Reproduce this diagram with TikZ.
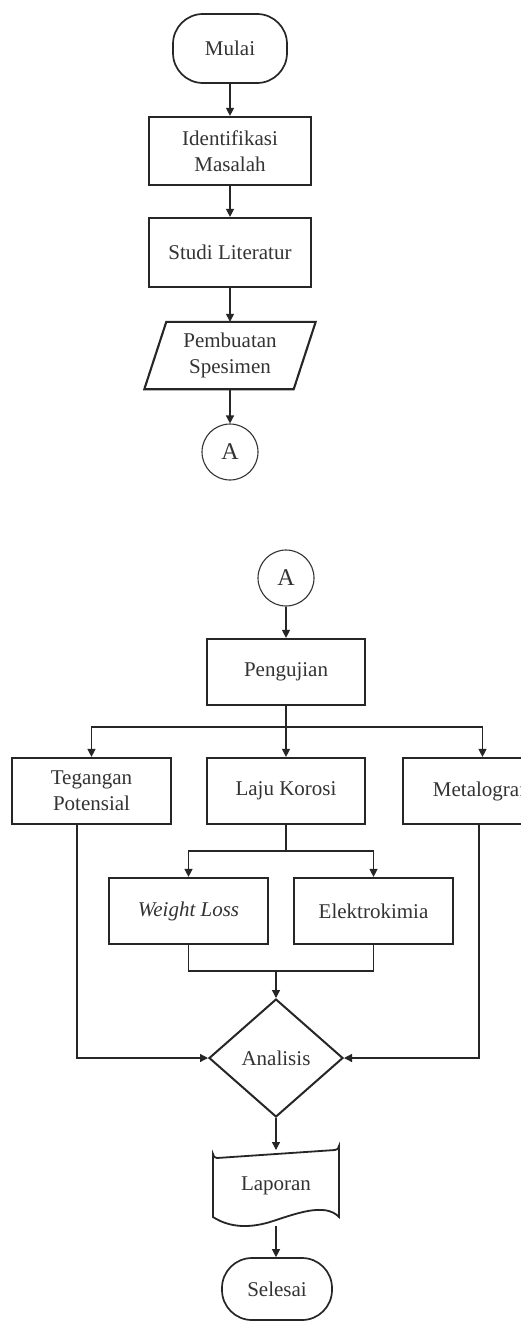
\documentclass[tikz,border=0pt]{standalone}
\usepackage{fontspec}
\setmainfont{Liberation Serif}
\usetikzlibrary{shapes.geometric,arrows.meta,calc}
\begin{document}
\begin{tikzpicture}[x=1pt,y=-1pt,
  every node/.style={font=\fontsize{21}{26}\selectfont, text=black!80, align=center},
  box/.style={draw=black!85, line width=2.2pt, minimum width=159pt, minimum height=67pt, inner sep=0pt},
  term/.style={draw=black!85, line width=1.7pt, rounded corners=30pt, inner sep=0pt},
  circ/.style={draw=black!80, line width=1.1pt, circle, minimum size=56pt, inner sep=0pt, font=\fontsize{24}{28}\selectfont},
  conn/.style={draw=black!85, line width=1.3pt},
  arr/.style={conn, -{Triangle[length=8pt,width=8pt]}},
  shapeline/.style={draw=black!85, line width=2.1pt, line join=miter},
]
\useasboundingbox (0,0) rectangle (521,1322);
\clip (0,0) rectangle (521,1322);
\fill[white] (0,0) rectangle (521,1322);

% ---------- upper part ----------
\node[term, minimum width=114pt, minimum height=69pt] (mulai) at (230,48.5) {Mulai};
\node[box, minimum width=162pt, minimum height=68pt] (ident) at (230,151) {Identifikasi\\Masalah};
\node[box, minimum width=162pt, minimum height=69pt] (studi) at (230,252.5) {Studi Literatur};
\node[minimum width=149pt, minimum height=67pt, inner sep=0pt] (spes) at (230,355.5) {Pembuatan\\Spesimen};
\draw[shapeline] ($(spes.north west)+(11,0)$) -- ($(spes.north east)+(11,0)$)
   -- ($(spes.south east)+(-11,0)$) -- ($(spes.south west)+(-11,0)$) -- cycle;
\node[circ] (a1) at (230,452) {A};

\draw[arr] (mulai) -- (ident);
\draw[arr] (ident) -- (studi);
\draw[arr] (studi) -- (spes.north);
\draw[arr] (spes.south) -- (a1);

% ---------- lower part ----------
\node[circ] (a2) at (286,578) {A};
\node[box, minimum width=158pt, minimum height=66pt] (uji) at (286,672) {Pengujian};
\node[box, minimum height=66pt] (teg) at (91.5,791) {Tegangan\\Potensial};
\node[box, minimum width=158pt, minimum height=66pt] (laju) at (286,791) {Laju Korosi};
\node[box, minimum height=66pt] (meta) at (482.5,791) {Metalografi};
\node[box, minimum height=66pt] (wl) at (188.5,911) {\textit{Weight Loss}};
\node[box, minimum height=66pt] (elek) at (373.5,911) {Elektrokimia};
\node[diamond, draw=black!85, line width=2pt, aspect=1.14, minimum width=134pt, minimum height=118pt, inner sep=0pt] (anal) at (276,1058) {Analisis};
\node[inner sep=0pt] (lap) at (276,1186) {Laporan};
\draw[shapeline, line width=1.8pt] (213,1217) -- (213,1154) arc[start angle=180, end angle=90, radius=4] -- (335,1150)
   arc[start angle=90, end angle=0, radius=4] -- (339,1217)
   .. controls (325,1202) and (295,1214) .. (270,1222)
   .. controls (250,1228) and (230,1228) .. (213,1217) -- cycle;
\coordinate (lapTop) at (276,1150);
\coordinate (lapBot) at (276,1226);
\node[term, minimum width=110pt, minimum height=62pt] (sel) at (277,1289) {Selesai};

\coordinate (br) at (286,727);
\coordinate (lb) at (286,851);
\coordinate (jn) at (276,971);

\draw[arr] (a2) -- (uji);
\draw[conn] (uji.south) -- (br);
\draw[arr] (br) -- (laju);
\draw[arr] (br) -| (teg.north);
\draw[arr] (br) -| (meta.north);
\draw[conn] (laju.south) -- (lb);
\draw[arr] (lb) -| (wl.north);
\draw[arr] (lb) -| (elek.north);
\draw[conn] (wl.south) |- (jn);
\draw[conn] (elek.south) |- (jn);
\draw[arr] (jn) -- (anal.north);
\draw[arr] ([xshift=-14.5pt]teg.south) |- (anal.west);
\draw[arr] ([xshift=-3.5pt]meta.south) |- (anal.east);
\draw[arr] (anal.south) -- (lapTop);
\draw[arr] (lapBot) -- (lapBot |- sel.north);
\end{tikzpicture}
\end{document}
